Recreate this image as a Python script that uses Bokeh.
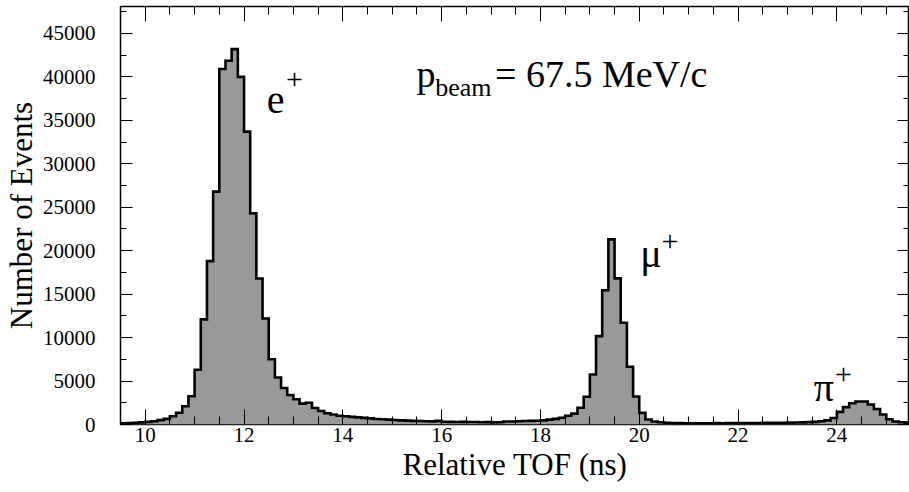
import numpy as np
from bokeh.plotting import figure
from bokeh.models import (Range1d, LinearAxis, SingleIntervalTicker,
                          NumeralTickFormatter, Label, CustomLabelingPolicy)
from bokeh.embed import file_html
from bokeh.resources import INLINE

# ---------------- data ----------------
bin_low = 9.5          # ns, left edge of first bin
bin_width = 0.125      # ns
counts = [
    150, 180, 210, 250, 300, 380, 500, 650,                # 9.5 - 10.5
    950, 1350, 2100, 3250, 6300, 12100, 18800, 26800,      # 10.5 - 11.5
    40900, 41850, 43200, 40000, 33700, 24300, 16800, 12200,  # 11.5 - 12.5
    7500, 5400, 4200, 3400, 2900, 2400, 2500, 1900,        # 12.5 - 13.5
    1550, 1300, 1150, 1000, 950, 880, 820, 760,            # 13.5 - 14.5
    700, 640, 600, 560, 520, 480, 450, 420,                # 14.5 - 15.5
    400, 380, 360, 420, 320, 300, 280, 300,                # 15.5 - 16.5
    280, 290, 260, 270, 250, 260, 340, 350,                # 16.5 - 17.5
    380, 400, 420, 440, 480, 560, 650, 780,                # 17.5 - 18.5
    1000, 1250, 1920, 3200, 5760, 10170, 15440, 21300,     # 18.5 - 19.5
    16820, 11710, 6640, 3230, 1340, 580, 350, 260,         # 19.5 - 20.5
    200, 180, 160, 150, 150, 140, 140, 150,                # 20.5 - 21.5
    160, 150, 170, 160, 170, 180, 170, 180,                # 21.5 - 22.5
    190, 190, 200, 210, 220, 230, 250, 270,                # 22.5 - 23.5
    300, 370, 480, 750, 1450, 2000, 2450, 2650,            # 23.5 - 24.5
    2650, 2300, 1780, 1150, 600, 350, 260, 220,            # 24.5 - 25.5
]
x_title = "Relative TOF (ns)"
y_title = "Number of Events"
beam_p, beam_sub, beam_rest = "p", "beam", "= 67.5 MeV/c"

FONT = "Liberation Serif"

n = len(counts)
edges = bin_low + bin_width * np.arange(n + 1)
step_x = np.repeat(edges, 2)
step_y = np.concatenate([[0], np.repeat(counts, 2), [0]])

p = figure(width=909, height=492, output_backend="svg", toolbar_location=None,
           x_range=Range1d(9.5, 25.47), y_range=Range1d(0, 48100),
           min_border_left=117, min_border_right=0, min_border_top=6,
           min_border_bottom=68, background_fill_color="white",
           border_fill_color="white")

p.xgrid.visible = False
p.ygrid.visible = False
p.outline_line_color = "black"
p.outline_line_width = 1.5

p.patch(step_x, step_y, fill_color="#999999", line_color=None)
p.line(step_x, step_y, line_color="black", line_width=2.6, line_join="miter")

xt = SingleIntervalTicker(interval=2, num_minor_ticks=4)
yt = SingleIntervalTicker(interval=5000, num_minor_ticks=2)

def style(ax, tin, tmin):
    ax.axis_line_color = None
    ax.major_tick_in = tin
    ax.major_tick_out = 0
    ax.minor_tick_in = tmin
    ax.minor_tick_out = 0
    ax.major_tick_line_color = "black"
    ax.minor_tick_line_color = "black"
    ax.major_tick_line_width = 1
    ax.minor_tick_line_width = 1
    ax.major_label_text_font = FONT
    ax.axis_label_text_font = FONT
    ax.axis_label_text_font_style = "normal"
    ax.major_label_text_color = "black"
    ax.axis_label_text_color = "black"

xa = p.xaxis[0]
xa.ticker = xt
style(xa, 15, 8)
xa.major_label_text_font_size = "21px"
xa.major_label_standoff = 3
xa.axis_label = x_title
xa.axis_label_text_font_size = "31px"
xa.axis_label_standoff = 2

ya = p.yaxis[0]
ya.ticker = yt
ya.formatter = NumeralTickFormatter(format="0")
style(ya, 12, 6)
ya.major_label_text_font_size = "21px"
ya.major_label_standoff = 25
ya.axis_label = y_title
ya.axis_label_text_font_size = "31px"
ya.axis_label_standoff = 1

no_labels = CustomLabelingPolicy(code="return new Set()")

top_ax = LinearAxis(ticker=xt, major_label_policy=no_labels)
style(top_ax, 15, 8)
top_ax.major_label_text_font_size = "0px"
top_ax.major_label_standoff = 0
p.add_layout(top_ax, "above")

right_ax = LinearAxis(ticker=yt, major_label_policy=no_labels)
style(right_ax, 12, 6)
right_ax.major_label_text_font_size = "0px"
right_ax.major_label_standoff = 0
p.add_layout(right_ax, "right")

def lab(x, y, text, size):
    p.add_layout(Label(x=x, y=y, text=text, text_font=FONT,
                       text_font_size=size, text_color="black",
                       text_baseline="alphabetic", text_align="left"))

# annotations (data coordinates)
lab(15.49, 40300, beam_p, "38px")
lab(15.87, 38800, beam_sub, "26px")
lab(17.08, 40300, beam_rest, "38px")
lab(12.46, 37300, "e", "40px")
lab(12.85, 39700, "+", "30px")
lab(20.02, 19700, "\u03bc", "40px")
lab(20.45, 21100, "+", "30px")
lab(23.53, 4300, "\u03c0", "40px")
lab(23.96, 5700, "+", "30px")

open("out.html", "w").write(file_html(p, INLINE))
